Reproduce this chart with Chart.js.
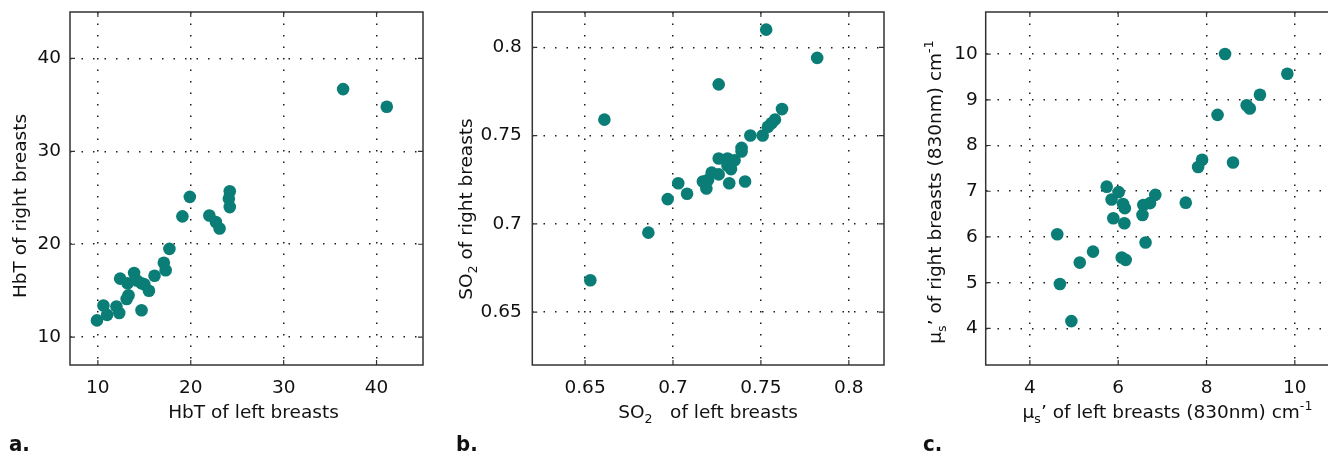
<!DOCTYPE html>
<html>
<head>
<meta charset="utf-8">
<script src="https://cdn.jsdelivr.net/npm/chart.js@4.4.1/dist/chart.umd.min.js"></script>
<style>
  html, body { margin: 0; padding: 0; background: #fff; }
  body { width: 1328px; height: 457px; overflow: hidden; position: relative; }
  canvas { position: absolute; top: 0; }
  .tag { position: absolute; top: 431px; font: bold 22px 'Liberation Sans Narrow', 'DejaVu Sans Condensed', sans-serif; color: #111; }
</style>
</head>
<body>
<canvas id="chartA" width="440" height="457" style="left:0px"></canvas>
<canvas id="chartB" width="460" height="457" style="left:440px"></canvas>
<canvas id="chartC" width="480" height="457" style="left:880px"></canvas>
<div class="tag" style="left:9px">a.</div>
<div class="tag" style="left:456px">b.</div>
<div class="tag" style="left:923px">c.</div>
<script>
// values
const hbtLeft  = [36.4, 41.1, 19.9, 19.1, 24.2, 24.1, 24.2, 22.0, 22.7, 23.1, 17.7, 17.1, 17.3, 16.1, 12.4, 13.9, 13.2, 14.2, 15.0, 15.5, 13.3, 13.1, 10.6, 12.0, 12.3, 11.0, 9.9, 14.7, 14.7];
const hbtRight = [36.7, 34.8, 25.1, 23.0, 25.7, 24.9, 24.0, 23.1, 22.4, 21.7, 19.5, 18.0, 17.2, 16.6, 16.3, 16.9, 15.8, 16.1, 15.7, 15.0, 14.5, 14.1, 13.4, 13.3, 12.6, 12.4, 11.8, 12.9, 15.8];

const so2Left  = [0.753, 0.782, 0.726, 0.661, 0.762, 0.758, 0.756, 0.754, 0.751, 0.744, 0.739, 0.739, 0.735, 0.726, 0.731, 0.731, 0.733, 0.726, 0.722, 0.720, 0.717, 0.719, 0.732, 0.741, 0.703, 0.708, 0.697, 0.686, 0.653];
const so2Right = [0.810, 0.794, 0.779, 0.759, 0.765, 0.759, 0.757, 0.755, 0.750, 0.750, 0.743, 0.741, 0.736, 0.737, 0.737, 0.733, 0.731, 0.728, 0.729, 0.725, 0.724, 0.720, 0.723, 0.724, 0.723, 0.717, 0.714, 0.695, 0.668];

const musLeft  = [8.42, 9.83, 9.21, 8.91, 8.98, 8.25, 7.90, 7.81, 8.60, 7.53, 6.84, 6.72, 6.57, 6.55, 6.62, 5.74, 6.01, 5.85, 6.11, 6.15, 5.89, 6.14, 4.62, 5.43, 5.13, 6.08, 6.17, 4.68, 4.94];
const musRight = [10.00, 9.57, 9.11, 8.88, 8.81, 8.67, 7.69, 7.53, 7.63, 6.75, 6.92, 6.74, 6.70, 6.48, 5.88, 7.10, 6.98, 6.82, 6.72, 6.63, 6.41, 6.30, 6.06, 5.68, 5.44, 5.55, 5.50, 4.97, 4.16];

const hbtTicks   = [10, 20, 30, 40];
const so2Ticks   = [0.65, 0.7, 0.75, 0.8];
const musXTicks  = [4, 6, 8, 10];
const musYTicks  = [4, 5, 6, 7, 8, 9, 10];

const TEAL = '#0b7d77';
const INK = '#111';
const FONT = 'DejaVu Sans';
const FSIZE = 18.5;

function drawRich(ctx, parts) {
  const small = FSIZE * 0.68;
  let total = 0;
  const widths = parts.map(p => {
    ctx.font = ((p.sub || p.sup) ? small : FSIZE) + 'px "' + FONT + '"';
    const w = ctx.measureText(p.t).width;
    total += w;
    return w;
  });
  let x = -total / 2;
  parts.forEach((p, i) => {
    ctx.font = ((p.sub || p.sup) ? small : FSIZE) + 'px "' + FONT + '"';
    const dy = p.sub ? FSIZE * 0.28 : (p.sup ? -FSIZE * 0.42 : 0);
    ctx.fillText(p.t, x, dy);
    x += widths[i];
  });
}

// frame, inward tick marks and axis titles, MATLAB style
const frame = {
  id: 'frame',
  afterDraw(chart, args, opts) {
    const {ctx, chartArea: a, scales} = chart;
    ctx.save();
    ctx.strokeStyle = '#333';
    ctx.lineWidth = 1.5;
    ctx.strokeRect(a.left, a.top, a.right - a.left, a.bottom - a.top);
    ctx.lineWidth = 1.2;
    ctx.beginPath();
    scales.x.ticks.forEach(t => {
      const px = scales.x.getPixelForValue(t.value);
      ctx.moveTo(px, a.bottom); ctx.lineTo(px, a.bottom - 5);
      ctx.moveTo(px, a.top); ctx.lineTo(px, a.top + 5);
    });
    scales.y.ticks.forEach(t => {
      const py = scales.y.getPixelForValue(t.value);
      ctx.moveTo(a.left, py); ctx.lineTo(a.left + 5, py);
      ctx.moveTo(a.right, py); ctx.lineTo(a.right - 5, py);
    });
    ctx.stroke();

    ctx.fillStyle = INK;
    ctx.textBaseline = 'alphabetic';
    ctx.textAlign = 'left';
    ctx.save();
    ctx.translate(opts.xTitle.x, opts.xTitle.y);
    drawRich(ctx, opts.xTitle.parts);
    ctx.restore();
    ctx.save();
    ctx.translate(opts.yTitle.x, opts.yTitle.y);
    ctx.rotate(-Math.PI / 2);
    drawRich(ctx, opts.yTitle.parts);
    ctx.restore();
    ctx.restore();
  }
};

function axis(min, max, ticks, side, size, pad) {
  return {
    type: 'linear',
    min: min,
    max: max,
    afterBuildTicks: s => { s.ticks = ticks.map(v => ({value: v})); },
    afterFit: s => {
      if (side === 'y') s.width = size; else s.height = size;
      s.paddingTop = 0; s.paddingBottom = 0; s.paddingLeft = 0; s.paddingRight = 0;
    },
    grid: { color: '#1a1a1a', lineWidth: 1.5, drawTicks: false },
    border: { display: false, dash: [1.5, 10] },
    ticks: {
      color: INK,
      padding: pad,
      font: { family: FONT, size: FSIZE },
      callback: v => String(v)
    }
  };
}

function makeScatter(id, xs, ys, x, y, padRight, titles) {
  new Chart(document.getElementById(id), {
    type: 'scatter',
    data: {
      datasets: [{
        data: xs.map((v, i) => ({x: v, y: ys[i]})),
        backgroundColor: TEAL,
        borderWidth: 0,
        pointRadius: 6.3,
        pointHoverRadius: 6.3
      }]
    },
    options: {
      responsive: false,
      animation: false,
      events: [],
      layout: { padding: { top: 12, right: padRight, bottom: 0, left: 0 } },
      plugins: { legend: { display: false }, tooltip: { enabled: false }, frame: titles },
      scales: { x: x, y: y }
    },
    plugins: [frame]
  });
}

makeScatter('chartA', hbtLeft, hbtRight,
  axis(7, 45, hbtTicks, 'x', 92, 12),
  axis(7, 45, hbtTicks, 'y', 70, 9),
  17,
  {
    xTitle: { x: 253.5, y: 417.5, parts: [{t: 'HbT of left breasts'}] },
    yTitle: { x: 26, y: 206, parts: [{t: 'HbT of right breasts'}] }
  });

makeScatter('chartB', so2Left, so2Right,
  axis(0.62, 0.82, so2Ticks, 'x', 92, 12),
  axis(0.62, 0.82, so2Ticks, 'y', 92.3, 10.5),
  16,
  {
    xTitle: { x: 268, y: 417.5, parts: [{t: 'SO'}, {t: '2', sub: true}, {t: '   of left breasts'}] },
    yTitle: { x: 32, y: 209, parts: [{t: 'SO'}, {t: '2', sub: true}, {t: ' of right breasts'}] }
  });

makeScatter('chartC', musLeft, musRight,
  axis(3, 11, musXTicks, 'x', 92, 12),
  axis(3.2, 10.92, musYTicks, 'y', 105.7, 8),
  21,
  {
    xTitle: { x: 287.5, y: 417.5, parts: [{t: '\u03bc'}, {t: 's', sub: true}, {t: '\u2019 of left breasts (830nm) cm'}, {t: '-1', sup: true}] },
    yTitle: { x: 61, y: 192, parts: [{t: '\u03bc'}, {t: 's', sub: true}, {t: '\u2019 of right breasts (830nm) cm'}, {t: '-1', sup: true}] }
  });
</script>
</body>
</html>
